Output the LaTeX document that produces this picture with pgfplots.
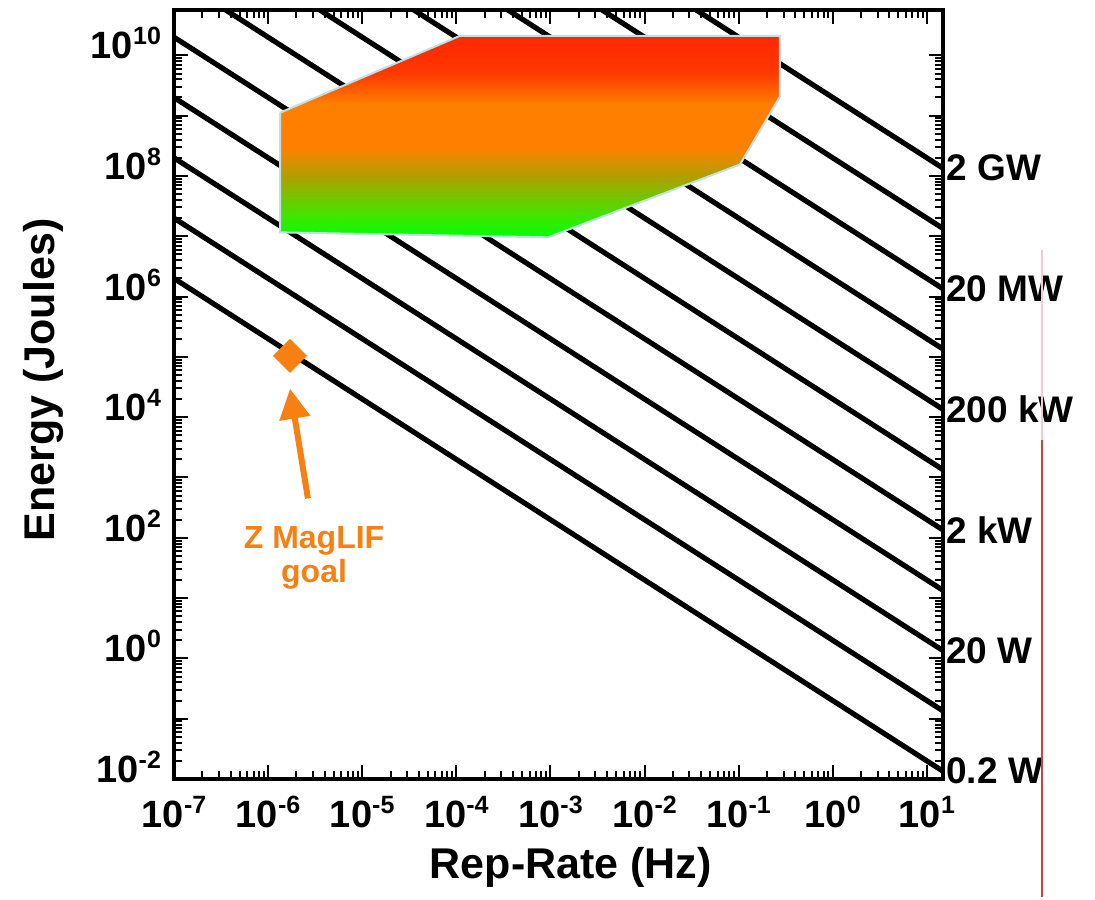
\documentclass[border=0pt]{standalone}
\usepackage{pgfplots}
\pgfplotsset{compat=1.18}
\usepackage{fontspec}
\setmainfont{Liberation Sans}
\usetikzlibrary{arrows.meta}

\definecolor{cred}{RGB}{255,40,0}
\definecolor{cred2}{RGB}{255,55,0}
\definecolor{corange}{RGB}{255,128,0}
\definecolor{colive}{RGB}{175,160,0}
\definecolor{cgreen2}{RGB}{60,232,0}
\definecolor{cgreen}{RGB}{0,255,0}
\definecolor{morange}{RGB}{246,128,18}
\definecolor{edgec}{RGB}{190,225,232}
\definecolor{sidered}{RGB}{190,70,70}
\definecolor{sidepink}{RGB}{236,205,210}

\pgfdeclareverticalshading{polyshade}{100bp}{color(0bp)=(cgreen); color(25bp)=(cgreen); color(30bp)=(cgreen2); color(40bp)=(colive); color(47.5bp)=(corange); color(58bp)=(corange); color(66bp)=(cred2); color(75bp)=(cred); color(100bp)=(cred)}

\newcommand\pw[1]{10\raisebox{7pt}{\fontsize{12.5pt}{12.5pt}\selectfont #1}}
\newcommand\tfont{\fontsize{19pt}{19pt}\selectfont\bfseries}
\newcommand\lfont{\fontsize{21.5pt}{21.5pt}\selectfont\bfseries}
\newcommand\rfont{\fontsize{18.5pt}{18.5pt}\selectfont\bfseries}

\begin{document}
\begin{tikzpicture}
\useasboundingbox (0,0) rectangle (547.5pt,-449.5pt);
\begin{axis}[
  at={(87pt,-389.5pt)}, anchor=south west,
  scale only axis, width=384.5pt, height=384.5pt,
  xmode=log, ymode=log,
  xmin=1e-7, xmax=14.86, ymin=0.01, ymax=5.65e10,
  clip mode=individual,
  axis line style={line width=2pt, line cap=rect},
  tick align=inside, tick pos=both,
  xticklabel pos=bottom, yticklabel pos=left,
  major tick length=7pt, minor tick length=4pt,
  every tick/.style={black, line width=1pt},
  xtick={1e-7,1e-6,1e-5,1e-4,1e-3,1e-2,1e-1,1,10},
  xticklabels={\pw{-7},\pw{-6},\pw{-5},\pw{-4},\pw{-3},\pw{-2},\pw{-1},\pw{0},\pw{1}},
  ytick={1e-2,1e-1,1,10,100,1e3,1e4,1e5,1e6,1e7,1e8,1e9,1e10},
  yticklabels={\pw{-2},,\pw{0},,\pw{2},,\pw{4},,\pw{6},,\pw{8},,\pw{10}},
  tick label style={font=\tfont},
  yticklabel style={xshift=-3pt, yshift=6pt},
  xticklabel style={yshift=-5pt},
  xlabel={Rep-Rate (Hz)}, ylabel={Energy (Joules)},
  label style={font=\lfont},
  x label style={at={(axis description cs:0.516,-0.129)}, anchor=base},
  y label style={at={(axis description cs:-0.155,0.519)}, anchor=base, rotate=0},
]
% constant power lines E = P / f
\addplot[black, line width=2.6pt] coordinates {(1e-7,2e6) (14.86,0.013459)};
\addplot[black, line width=2.6pt] coordinates {(1e-7,2e7) (14.86,0.13459)};
\addplot[black, line width=2.6pt] coordinates {(1e-7,2e8) (14.86,1.3459)};
\addplot[black, line width=2.6pt] coordinates {(1e-7,2e9) (14.86,13.459)};
\addplot[black, line width=2.6pt] coordinates {(1e-7,2e10) (14.86,134.59)};
\addplot[black, line width=2.6pt] coordinates {(1e-7,2e11) (14.86,1345.9)};
\addplot[black, line width=2.6pt] coordinates {(1e-7,2e12) (14.86,13459)};
\addplot[black, line width=2.6pt] coordinates {(1e-7,2e13) (14.86,134590)};
\addplot[black, line width=2.6pt] coordinates {(1e-7,2e14) (14.86,1.3459e6)};
\addplot[black, line width=2.6pt] coordinates {(1e-7,2e15) (14.86,1.3459e7)};
\addplot[black, line width=2.6pt] coordinates {(1e-7,2e16) (14.86,1.3459e8)};
% region
\addplot[draw=edgec, line width=1pt, shade, shading=polyshade] coordinates {
  (1.34e-6,1.12e9) (1.09e-4,2.1e10) (0.275,2.1e10) (0.275,2.06e9)
  (0.1035,1.55e8) (9.4e-4,9.6e6) (1.34e-6,1.16e7) (1.34e-6,1.12e9)};
% Z MagLIF goal
\addplot[only marks, mark=square*, mark size=5.8pt,
  mark options={rotate=45, fill=morange, draw=morange, rounded corners=1pt}]
  coordinates {(1.71e-6,1.04e5)};
\draw[morange, line width=3pt, -{Triangle[width=15pt,length=15pt]}]
  (axis cs:2.65e-6,450) -- (axis cs:1.71e-6,2.96e4);
\node[align=center, text=morange, font=\fontsize{16pt}{17pt}\selectfont\bfseries]
  at (axis cs:3.08e-6,45.8) {Z MagLIF\\goal};
% power labels
\node[anchor=west, inner sep=1.5pt, font=\rfont] at (axis cs:14.86,1.3459e8) {2 GW};
\node[anchor=west, inner sep=1.5pt, font=\rfont] at (axis cs:14.86,1.3459e6) {20 MW};
\node[anchor=west, inner sep=1.5pt, font=\rfont] at (axis cs:14.86,13459) {200 kW};
\node[anchor=west, inner sep=1.5pt, font=\rfont] at (axis cs:14.86,134.59) {2 kW};
\node[anchor=west, inner sep=1.5pt, font=\rfont] at (axis cs:14.86,1.3459) {20 W};
\node[anchor=west, inner sep=1.5pt, font=\rfont] at (axis cs:14.86,0.013459) {0.2 W};
\end{axis}
\draw[sidepink, line width=1pt] (521pt,-125pt) -- (521pt,-220pt);
\draw[sidered, line width=1pt] (521pt,-220pt) -- (521pt,-448.5pt);
\end{tikzpicture}
\end{document}
